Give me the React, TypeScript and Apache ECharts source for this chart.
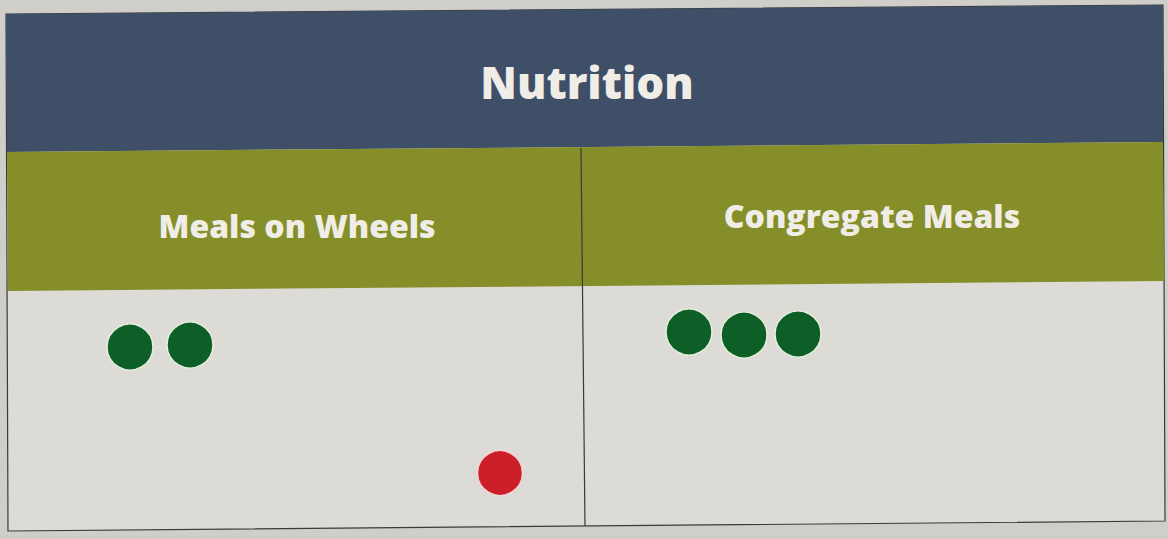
import React, { useEffect, useRef } from "react";
import * as echarts from "echarts";

const title = "Nutrition";
const categories = ["Meals on Wheels", "Congregate Meals"];
// sticker dots placed on the board (x, y in board pixels)
const greenDotsX = [130, 190, 689, 744, 798];
const greenDotsY = [347, 345, 332, 335, 334];
const redDotsX = [500];
const redDotsY = [473];

const W = 1168;
const H = 539;

export default function App() {
  const ref = useRef<HTMLDivElement>(null);
  useEffect(() => {
    document.body.style.margin = "0";
    const chart = echarts.init(ref.current!, undefined, { renderer: "svg" });
    const font = "'Open Sans', Lato, sans-serif";
    chart.setOption({
      animation: false,
      backgroundColor: "#cfcec9",
      grid: { left: 0, right: 0, top: 0, bottom: 0 },
      xAxis: { type: "value", min: 0, max: W, show: false },
      yAxis: { type: "value", min: 0, max: H, inverse: true, show: false },
      graphic: [
        {
          type: "polygon",
          z: -10,
          shape: { points: [[6, 14], [1163, 5], [1165, 521], [8, 531]] },
          style: { fill: "#dcdbd6", stroke: "#3a3a3a", lineWidth: 1.2 },
        },
        {
          type: "polygon",
          z: -9,
          shape: { points: [[6, 14], [1163, 5], [1163, 142], [7, 152]] },
          style: { fill: "#3e4f67" },
        },
        {
          type: "polygon",
          z: -9,
          shape: { points: [[7, 152], [1163, 142], [1164, 281], [8, 291]] },
          style: { fill: "#858e29" },
        },
        {
          type: "line",
          z: -8,
          shape: { x1: 581, y1: 148, x2: 585, y2: 526 },
          style: { stroke: "#3a3a30", lineWidth: 1.2 },
        },
        {
          type: "text",
          x: 587,
          y: 82,
          style: {
            text: title,
            fill: "#efede6",
            font: `800 44px ${font}`,
            align: "center",
            verticalAlign: "middle",
          },
        },
        {
          type: "text",
          x: 297,
          y: 225,
          style: {
            text: categories[0],
            fill: "#efede6",
            font: `800 32px ${font}`,
            align: "center",
            verticalAlign: "middle",
          },
        },
        {
          type: "text",
          x: 872,
          y: 215,
          style: {
            text: categories[1],
            fill: "#efede6",
            font: `800 32px ${font}`,
            align: "center",
            verticalAlign: "middle",
          },
        },
      ],
      series: [
        {
          type: "scatter",
          symbol: "circle",
          symbolSize: 46,
          data: greenDotsX.map((x, i) => [x, greenDotsY[i]]),
          itemStyle: { color: "#0d5f27", opacity: 1, borderColor: "#e6f0de", borderWidth: 1.5 },
        },
        {
          type: "scatter",
          symbol: "circle",
          symbolSize: 45,
          data: redDotsX.map((x, i) => [x, redDotsY[i]]),
          itemStyle: { color: "#cc1f2a", opacity: 1, borderColor: "#f3d6d6", borderWidth: 1.5 },
        },
      ],
    });
    return () => chart.dispose();
  }, []);
  return <div ref={ref} style={{ width: W, height: H }} />;
}
